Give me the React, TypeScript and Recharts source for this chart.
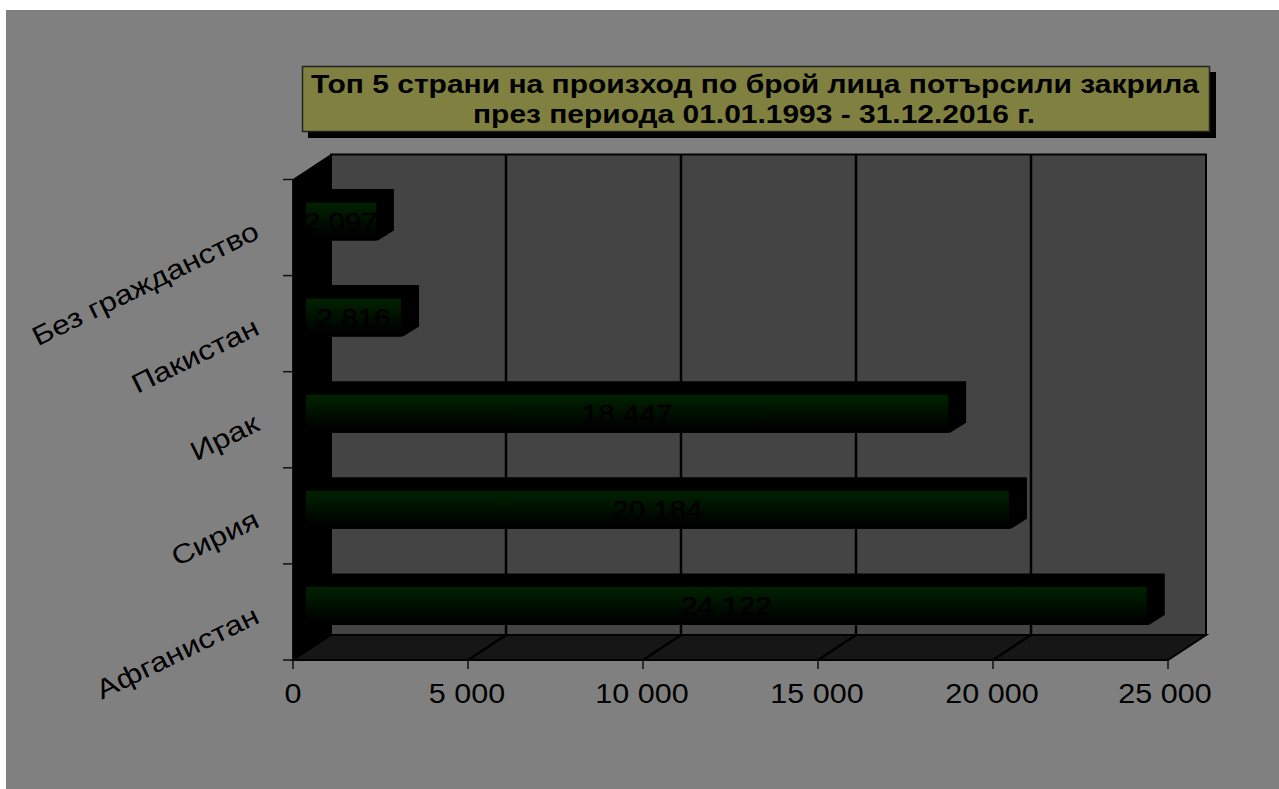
import React from 'react';
import { BarChart, Bar, XAxis, YAxis, CartesianGrid, ReferenceArea } from 'recharts';

const categories = ['Без гражданство', 'Пакистан', 'Ирак', 'Сирия', 'Афганистан'];
const values = [2097, 2816, 18447, 20184, 24122];
const xTicks = [0, 5000, 10000, 15000, 20000, 25000];
const titleLines = ['Топ 5 страни на произход по брой лица потърсили закрила', 'през периода 01.01.1993 - 31.12.2016 г.'];

const rows = categories.map((name, i) => ({ name, value: values[i] }));
const fmt = (v: number) => String(v).replace(/\B(?=(\d{3})+$)/g, ' ');

const FONT = '"Liberation Sans", Arial, sans-serif';
const DEPTH_X = 38;
const DEPTH_Y = 25;
const BAND = 96.1;

// back wall, side wall and floor of the fake 3D box
function Box(props: any) {
  const { x, y, width: w, height: h } = props;
  const r = x + w;
  const b = y + h;
  return (
    <g>
      <polygon points={`${x},${y} ${x + DEPTH_X},${y - DEPTH_Y} ${x + DEPTH_X},${b - DEPTH_Y} ${x},${b}`} fill="#000" stroke="#000" />
      <rect x={x + DEPTH_X} y={y - DEPTH_Y} width={w} height={h} fill="#444444" stroke="#000" strokeWidth={2} />
      <polygon points={`${x},${b} ${x + DEPTH_X},${b - DEPTH_Y} ${r + DEPTH_X},${b - DEPTH_Y} ${r},${b}`} fill="#161616" stroke="#000" strokeWidth={2} />
    </g>
  );
}

function GridLine(props: any) {
  const { x1, y1, y2, index } = props;
  const top = Math.min(y1, y2);
  const bottom = Math.max(y1, y2);
  if (x1 < 300 || x1 > 1160) return <g key={index} />;
  return <path key={index} d={`M${x1},${bottom} L${x1 + DEPTH_X},${bottom - DEPTH_Y} L${x1 + DEPTH_X},${top - DEPTH_Y}`} fill="none" stroke="#000" strokeWidth={2.5} />;
}

function Bar3D(props: any) {
  const { x, y, width, height, payload } = props;
  const left = x + 13;
  const right = x + width + 9.5;
  const top = y - 6;
  const bottom = top + height;
  return (
    <g>
      <polygon
        points={`${left},${top} ${left},${top - 13.5} ${right + 18},${top - 13.5} ${right + 18},${bottom - 10} ${right + 2},${bottom} ${left},${bottom}`}
        fill="#000"
      />
      <rect x={left} y={top} width={right - left} height={height} fill="url(#barFace)" />
      <text
        transform={`translate(${(left + right) / 2},${top + height / 2 + 9}) scale(1.14,1)`}
        textAnchor="middle"
        fontFamily={FONT}
        fontSize={26}
        fill="#000"
        stroke="#000"
        strokeWidth={0.5}
      >
        {fmt(payload.value)}
      </text>
    </g>
  );
}

function CategoryTick(props: any) {
  const { x, y, payload, index } = props;
  const axisX = x + 8;
  return (
    <g>
      {index === 0 && <line x1={axisX - 10} x2={axisX} y1={y - BAND / 2} y2={y - BAND / 2} stroke="#111" strokeWidth={1.5} />}
      <line x1={axisX - 10} x2={axisX} y1={y + BAND / 2} y2={y + BAND / 2} stroke="#111" strokeWidth={1.5} />
      <text
        transform={`translate(${axisX - 32},${y + 10}) rotate(-26) scale(1.18,1)`}
        textAnchor="end"
        fontFamily={FONT}
        fontSize={27}
        fill="#000"
      >
        {payload.value}
      </text>
    </g>
  );
}

function ValueTick(props: any) {
  const { x, payload } = props;
  const shift = payload.value === 25000 ? 3 : payload.value === 0 ? 0 : 1;
  return (
    <text
      transform={`translate(${x - shift},703) scale(1.13,1)`}
      textAnchor="middle"
      fontFamily={FONT}
      fontSize={27}
      fill="#000"
    >
      {fmt(payload.value)}
    </text>
  );
}

export default function App() {
  return (
    <div style={{ position: 'absolute', left: 0, top: 0, width: 1279, height: 789, background: '#fff', overflow: 'hidden' }}>
      <div style={{ position: 'absolute', left: 6, top: 10, width: 1273, height: 779, background: '#808080' }} />
      <div style={{ position: 'absolute', left: 0, top: 0 }}>
        <BarChart
          width={1279}
          height={789}
          data={rows}
          layout="vertical"
          margin={{ top: 179.5, right: 111, bottom: 128, left: 292 }}
          barCategoryGap={0}
        >
          <defs>
            <linearGradient id="barFace" x1="0" y1="0" x2="0" y2="1">
              <stop offset="0%" stopColor="#002200" />
              <stop offset="90%" stopColor="#000000" />
            </linearGradient>
          </defs>
          <ReferenceArea x1={0} x2={25000} shape={<Box />} ifOverflow="visible" zIndex={-200} />
          <CartesianGrid horizontal={false} vertical={(p: any) => <GridLine {...p} />} />
          <XAxis
            type="number"
            domain={[0, 25000]}
            ticks={xTicks}
            height={1}
            interval={0}
            tick={<ValueTick />}
            tickSize={9}
            axisLine={{ stroke: '#000', strokeWidth: 2 }}
            tickLine={{ stroke: '#111', strokeWidth: 1.5 }}
          />
          <YAxis
            type="category"
            dataKey="name"
            width={1}
            interval={0}
            tick={<CategoryTick />}
            tickLine={false}
            axisLine={{ stroke: '#000', strokeWidth: 1.5 }}
          />
          <Bar dataKey="value" barSize={38} shape={<Bar3D />} isAnimationActive={false} />
        </BarChart>
      </div>
      <svg width={1279} height={789} style={{ position: 'absolute', left: 0, top: 0, pointerEvents: 'none' }}>
        <rect x={308} y={72} width={908} height={66} fill="#000" />
        <rect x={302.5} y={66.5} width={907} height={65} fill="#808040" stroke="#222" strokeWidth={1.5} />
        <text x={755} y={93} textAnchor="middle" textLength={888} lengthAdjust="spacingAndGlyphs" fontFamily={FONT} fontWeight="bold" fontSize={25} fill="#000">
          {titleLines[0]}
        </text>
        <text x={754} y={123} textAnchor="middle" textLength={562} lengthAdjust="spacingAndGlyphs" fontFamily={FONT} fontWeight="bold" fontSize={25} fill="#000">
          {titleLines[1]}
        </text>
      </svg>
    </div>
  );
}
